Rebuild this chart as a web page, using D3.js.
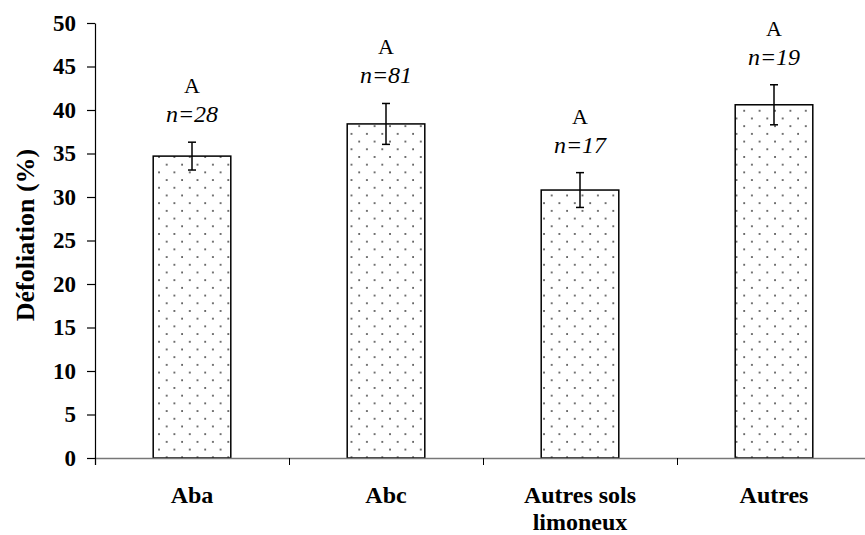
<!DOCTYPE html>
<html>
<head>
<meta charset="utf-8">
<script src="https://cdn.jsdelivr.net/npm/d3@7"></script>
<style>
  html, body { margin: 0; padding: 0; background: #fff; }
  svg { display: block; }
  svg text { font-family: "Liberation Serif", "Times New Roman", Tinos, "DejaVu Serif", serif; }
</style>
</head>
<body>
<svg id="chart" width="865" height="535"></svg>
<script>
// Défoliation moyenne par type de sol
const categories = [["Aba"], ["Abc"], ["Autres sols", "limoneux"], ["Autres"]];
const means = [34.7, 38.4, 30.8, 40.6];
const errors = [1.6, 2.35, 2.0, 2.3];
const groups = ["A", "A", "A", "A"];
const counts = ["n=28", "n=81", "n=17", "n=19"];
const yTicks = [0, 5, 10, 15, 20, 25, 30, 35, 40, 45, 50];

const SERIF = '"Liberation Serif", "Times New Roman", Tinos, "DejaVu Serif", serif';
const svg = d3.select("#chart");
const plotLeft = 95, plotRight = 871, plotTop = 23, plotBottom = 458;

const keys = categories.map(c => c.join(" "));
const x = d3.scaleBand().domain(keys).range([plotLeft, plotRight]).padding(0);
const y = d3.scaleLinear().domain([0, 50]).range([plotBottom, plotTop]);
const barW = x.bandwidth() * 0.4;

// dotted fill
const defs = svg.append("defs");
const pat = defs.append("pattern")
  .attr("id", "dots")
  .attr("patternUnits", "userSpaceOnUse")
  .attr("width", 15.4).attr("height", 15.4)
  .attr("x", 4).attr("y", 2);
pat.append("rect").attr("width", 15.4).attr("height", 15.4).attr("fill", "#fff");
pat.append("circle").attr("cx", 1).attr("cy", 1).attr("r", 0.9).attr("fill", "#333");
pat.append("circle").attr("cx", 8.7).attr("cy", 8.7).attr("r", 0.9).attr("fill", "#333");

// bars
svg.append("g").selectAll("rect")
  .data(means)
  .join("rect")
  .attr("x", (d, i) => x(keys[i]) + (x.bandwidth() - barW) / 2)
  .attr("y", d => y(d))
  .attr("width", barW)
  .attr("height", d => y(0) - y(d))
  .attr("fill", "url(#dots)")
  .attr("stroke", "#000")
  .attr("stroke-width", 1.5);

// x axis with ticks at category boundaries
const xb = d3.scaleLinear().domain([0, keys.length]).range([plotLeft, plotRight]);
const xAxis = svg.append("g")
  .attr("transform", `translate(0,${plotBottom})`)
  .call(d3.axisBottom(xb).tickValues(d3.range(keys.length + 1)).tickSize(7).tickFormat(""));
xAxis.select(".domain").attr("stroke", "#777").attr("stroke-width", 1.5);
xAxis.selectAll(".tick line").attr("stroke", "#000").attr("stroke-width", 1);

// y axis
const yAxis = svg.append("g")
  .attr("transform", `translate(${plotLeft},0)`)
  .call(d3.axisLeft(y).tickValues(yTicks).tickSize(8).tickPadding(11).tickSizeOuter(0))
  .attr("font-family", SERIF);
yAxis.select(".domain").attr("stroke", "#000").attr("stroke-width", 1.2);
yAxis.selectAll(".tick line").attr("stroke", "#000").attr("stroke-width", 1.2);
yAxis.selectAll(".tick text")
  .attr("font-family", SERIF)
  .attr("font-weight", "bold")
  .attr("font-size", 23)
  .attr("fill", "#000");

// error bars
const eb = svg.append("g").attr("stroke", "#000").attr("stroke-width", 1.5);
means.forEach((m, i) => {
  const cx = x(keys[i]) + x.bandwidth() / 2;
  eb.append("line").attr("x1", cx).attr("x2", cx).attr("y1", y(m + errors[i])).attr("y2", y(m - errors[i]));
  eb.append("line").attr("x1", cx - 4).attr("x2", cx + 4).attr("y1", y(m + errors[i])).attr("y2", y(m + errors[i]));
  eb.append("line").attr("x1", cx - 4).attr("x2", cx + 4).attr("y1", y(m - errors[i])).attr("y2", y(m - errors[i]));
});

// group letters and sample sizes
const ann = svg.append("g").attr("text-anchor", "middle").attr("fill", "#000").attr("font-family", SERIF);
means.forEach((m, i) => {
  const cx = x(keys[i]) + x.bandwidth() / 2;
  const yTop = y(m + errors[i]);
  ann.append("text").attr("x", cx).attr("y", yTop - 20)
    .attr("font-size", 24).attr("font-style", "italic").text(counts[i]);
  ann.append("text").attr("x", cx).attr("y", yTop - 49)
    .attr("font-size", 22).text(groups[i]);
});

// category labels
const cl = svg.append("g").attr("text-anchor", "middle").attr("font-weight", "bold")
  .attr("font-size", 24).attr("font-family", SERIF);
categories.forEach((lines, i) => {
  const cx = x(keys[i]) + x.bandwidth() / 2;
  const t = cl.append("text").attr("x", cx).attr("y", 503);
  lines.forEach((ln, j) => t.append("tspan").attr("x", cx).attr("dy", j === 0 ? 0 : 27).text(ln));
});

// y axis title
svg.append("text")
  .attr("transform", "translate(34,235) rotate(-90)")
  .attr("text-anchor", "middle")
  .attr("font-family", SERIF)
  .attr("font-weight", "bold")
  .attr("font-size", 26)
  .text("Défoliation (%)");
</script>
</body>
</html>
